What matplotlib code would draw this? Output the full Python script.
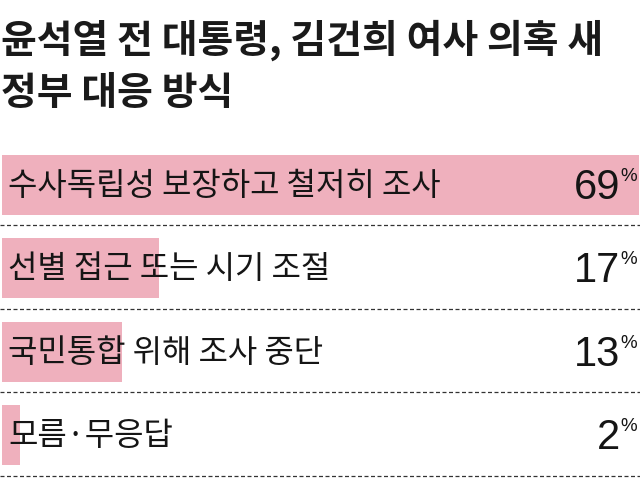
import numpy as np
import matplotlib
matplotlib.use("Agg")
import matplotlib.pyplot as plt
from matplotlib import font_manager
from matplotlib.transforms import blended_transform_factory

# data
title_lines = ["윤석열 전 대통령, 김건희 여사 의혹 새", "정부 대응 방식"]
categories = ["수사독립성 보장하고 철저히 조사", "선별 접근 또는 시기 조절",
              "국민통합 위해 조사 중단", "모름·무응답"]
values = [69, 17, 13, 2]

names = set(font_manager.get_font_names())
kr = "Noto Sans CJK KR"
num_font = "Liberation Sans Narrow" if "Liberation Sans Narrow" in names else "Liberation Sans"

bar_color = "#efb0bd"
text_color = "#151515"

fig = plt.figure(figsize=(6.4, 5.04), dpi=100)
W, H = 640, 504

# axes area in pixels: x 2..639, y 145..485
ax = fig.add_axes([2 / W, (H - 485) / H, 637 / W, 340 / H])
pitch = 83.4
y = np.arange(len(values))
ax.barh(y, values, height=60 / pitch, color=bar_color, linewidth=0)
ax.set_xlim(0, max(values))
ax.set_ylim((485 - 185) / pitch, (145 - 185) / pitch)
ax.axis("off")

# dotted separators under each bar
for i in y:
    ax.axhline(i + 40.5 / pitch, xmin=-2 / 637, xmax=1 + 1 / 637, color="#333333",
               lw=0.9, dashes=(3.2, 2.0), clip_on=False)

tr = blended_transform_factory(ax.transAxes, ax.transData)
for i, (c, v) in enumerate(zip(categories, values)):
    ax.text(6 / 637, i + 1 / pitch, c, transform=tr, va="center", ha="left",
            fontsize=23, family=[kr, "DejaVu Sans"], color=text_color)
    ax.text(618 / 637, i + 14 / pitch, str(v), transform=tr, va="baseline", ha="right",
            fontsize=30, family=num_font, color=text_color)
    ax.text(618.5 / 637, i - 17 / pitch, "%", transform=tr, va="top", ha="left",
            fontsize=13.5, family=num_font, color=text_color)

# title
for k, (line, yc) in enumerate(zip(title_lines, [40, 93])):
    fig.text(1 / W, 1 - yc / H, line, va="center", ha="left", fontsize=28,
             fontweight="heavy", family=[kr, "DejaVu Sans"], color="#1a1a1a")

fig.savefig("out.png", dpi=100)
